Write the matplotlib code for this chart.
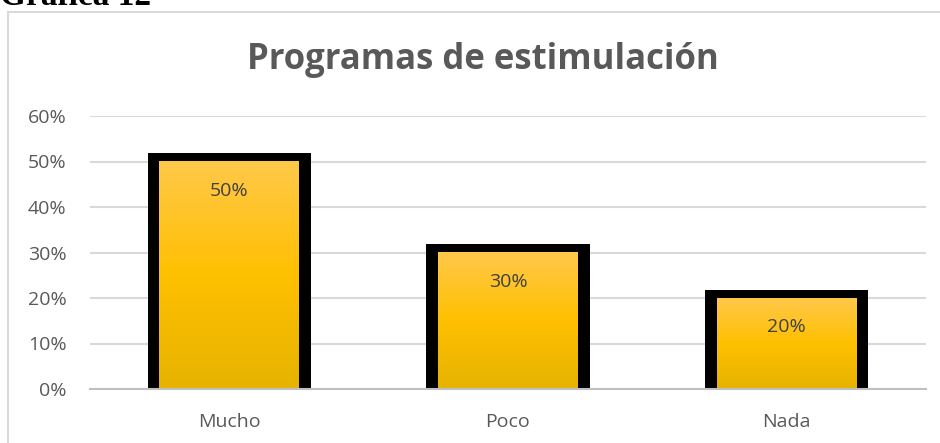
import matplotlib
matplotlib.use("Agg")
import matplotlib.pyplot as plt
import numpy as np
from matplotlib.patches import Rectangle
from matplotlib.colors import LinearSegmentedColormap

categories = ["Mucho", "Poco", "Nada"]
values = [0.50, 0.30, 0.20]
value_labels = ["50%", "30%", "20%"]
yticks = [0, 0.1, 0.2, 0.3, 0.4, 0.5, 0.6]
ytick_labels = ["0%", "10%", "20%", "30%", "40%", "50%", "60%"]
title = "Programas de estimulación"
heading = "Gráfica 12"

W, H = 940, 443
fig = plt.figure(figsize=(W / 100, H / 100), dpi=100)
fig.patch.set_facecolor("white")

# chart border (extends beyond right/bottom edges)
fig.patches.append(Rectangle((8 / W, -0.05), 1.1, (H - 12) / H + 0.05, transform=fig.transFigure,
                             fill=False, edgecolor="#D9D9D9", linewidth=1.5, zorder=0))

fig.text(0 / W, 1 - 5 / H, heading, fontsize=24, fontweight="bold",
         family="Liberation Serif", ha="left", va="baseline", color="black")

ax = fig.add_axes([90 / W, 54 / H, 836 / W, (389 - 116) / H])
ax.set_xlim(-0.5, 2.5)
ax.set_ylim(0, 0.6)
ax.set_facecolor("none")

for s in ["top", "right", "left"]:
    ax.spines[s].set_visible(False)
ax.spines["bottom"].set_color("#BFBFBF")
ax.spines["bottom"].set_linewidth(1.5)
ax.spines["bottom"].set_zorder(5)

ax.set_yticks(yticks)
ax.set_yticklabels(ytick_labels)
ax.yaxis.grid(True, color="#D9D9D9", linewidth=1.5)
ax.set_axisbelow(True)
ax.tick_params(axis="both", length=0, labelsize=14, colors="#595959")
ax.tick_params(axis="y", pad=17)
ax.tick_params(axis="x", pad=17)
x = np.arange(len(categories))
ax.set_xticks(x)
ax.set_xticklabels(categories)
for lab in ax.get_xticklabels() + ax.get_yticklabels():
    lab.set_family("Open Sans")

inner_w = 0.502
outer_w = 0.585
top_extra = 0.0185

# black frames behind
ax.bar(x, [v + top_extra for v in values], width=outer_w, color="black", zorder=2)

cmap = LinearSegmentedColormap.from_list("g", [(0, "#E6B300"), (0.5, "#FFC000"), (1, "#FFC84A")])
grad = np.linspace(0, 1, 256).reshape(-1, 1)
for xi, v in zip(x, values):
    ax.imshow(grad, cmap=cmap, origin="lower", aspect="auto",
              extent=[xi - inner_w / 2, xi + inner_w / 2, 0, v], zorder=3, interpolation="bilinear")
ax.set_xlim(-0.5, 2.5)
ax.set_ylim(0, 0.6)

for xi, v, lab in zip(x, values, value_labels):
    ax.annotate(lab, (xi, v), xytext=(0, -21), textcoords="offset points",
                ha="center", va="center", fontsize=14, color="#404040", family="Open Sans", zorder=6)

fig.text(483 / W, 1 - 60 / H, title, ha="center", va="center", fontsize=25,
         fontweight="bold", color="#595959", family="Open Sans")

fig.savefig("out.png", dpi=100)
